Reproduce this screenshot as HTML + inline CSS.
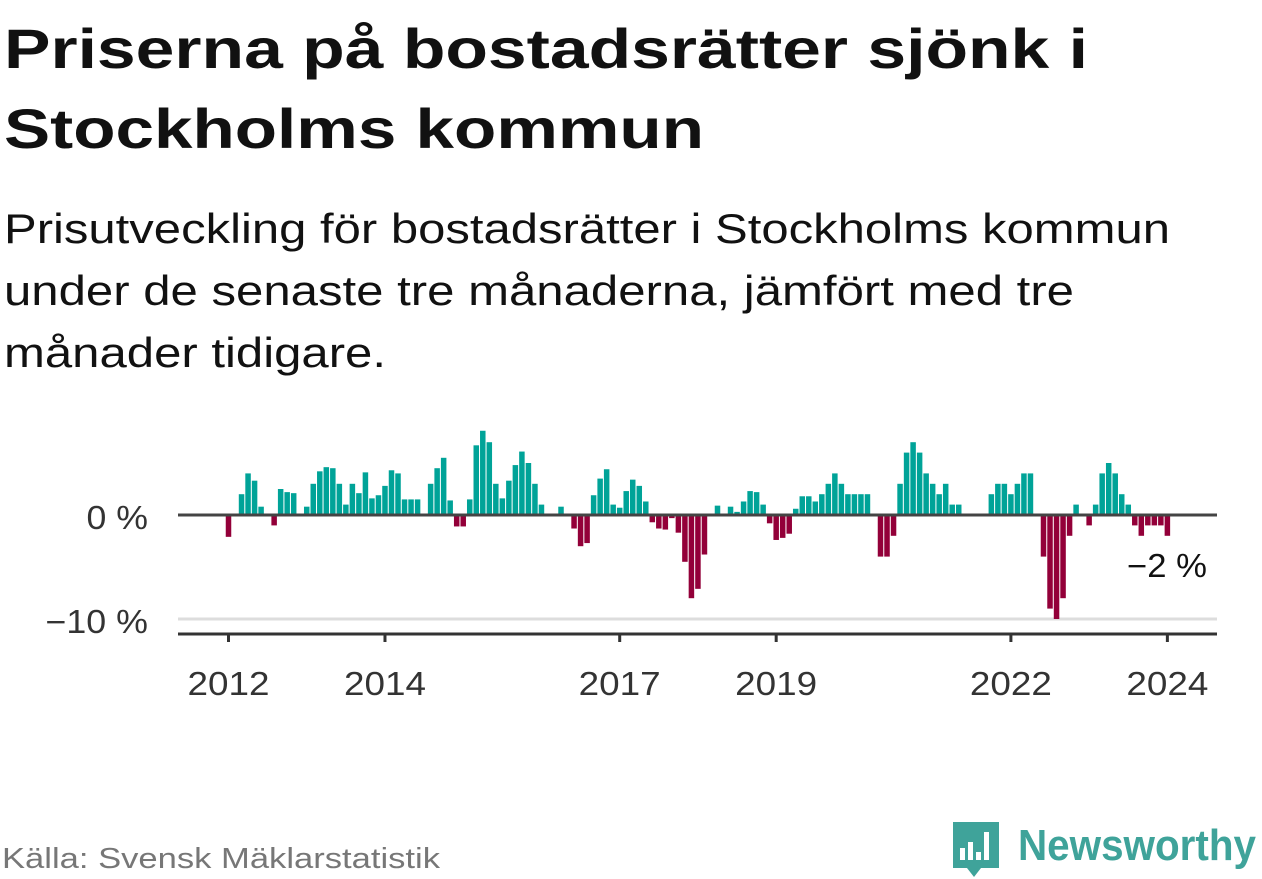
<!DOCTYPE html>
<html><head><meta charset="utf-8"><style>
html,body{margin:0;padding:0;background:#fff;}
svg{display:block;font-family:"Liberation Sans","DejaVu Sans",sans-serif;}
</style></head><body>
<svg id="chart" width="1262" height="879" viewBox="0 0 1262 879" xmlns="http://www.w3.org/2000/svg">
<text x="4" y="68" font-size="56" font-weight="bold" fill="#111" textLength="1084" lengthAdjust="spacingAndGlyphs">Priserna på bostadsrätter sjönk i</text>
<text x="4" y="148" font-size="56" font-weight="bold" fill="#111" textLength="700" lengthAdjust="spacingAndGlyphs">Stockholms kommun</text>
<text x="4" y="243" font-size="42" fill="#111" textLength="1166" lengthAdjust="spacingAndGlyphs">Prisutveckling för bostadsrätter i Stockholms kommun</text>
<text x="4" y="305" font-size="42" fill="#111" textLength="1070" lengthAdjust="spacingAndGlyphs">under de senaste tre månaderna, jämfört med tre</text>
<text x="4" y="367" font-size="42" fill="#111" textLength="382" lengthAdjust="spacingAndGlyphs">månader tidigare.</text>
<g id="plot"></g>
<text x="2" y="868" font-size="29" fill="#777" textLength="438" lengthAdjust="spacingAndGlyphs">Källa: Svensk Mäklarstatistik</text>
<g>
<path d="M953 822 h46 v46 h-18 l-7 9 l-7 -9 h-14 z" fill="#3fa39a"/>
<rect x="960" y="848" width="5" height="12" fill="#fff"/>
<rect x="968" y="842" width="5" height="18" fill="#fff"/>
<rect x="976" y="852" width="5" height="8" fill="#fff"/>
<rect x="984" y="832" width="5" height="28" fill="#fff"/>
<text x="1018" y="860" font-size="44" font-weight="bold" fill="#3fa39a" textLength="238" lengthAdjust="spacingAndGlyphs">Newsworthy</text>
</g>
</svg>
<script>
const values = [-2.1,0,2.0,4.0,3.3,0.8,0,-1.0,2.5,2.2,2.1,0,
0.8,3.0,4.2,4.6,4.5,3.0,1.0,3.0,2.1,4.1,1.6,1.9,
2.8,4.3,4.0,1.5,1.5,1.5,0,3.0,4.5,5.5,1.4,-1.1,
-1.1,1.5,6.7,8.1,7.0,3.0,1.6,3.3,4.8,6.1,5.0,3.0,
1.0,0,0,0.8,0,-1.3,-3.0,-2.7,1.9,3.5,4.4,1.0,
0.7,2.3,3.4,2.8,1.3,-0.7,-1.3,-1.4,-0.3,-1.7,-4.5,-8.0,
-7.1,-3.8,0,0.9,0,0.8,0.3,1.3,2.3,2.2,1.0,-0.8,
-2.4,-2.2,-1.8,0.6,1.8,1.8,1.3,2.0,3.0,4.0,3.0,2.0,
2.0,2.0,2.0,0,-4.0,-4.0,-2.0,3.0,6.0,7.0,6.0,4.0,
3.0,2.0,3.0,1.0,1.0,0,0,0,0,2.0,3.0,3.0,
2.0,3.0,4.0,4.0,0,-4.0,-9.0,-10.0,-8.0,-2.0,1.0,0,
-1.0,1.0,4.0,5.0,4.0,2.0,1.0,-1.0,-2.0,-1.0,-1.0,-1.0,
-2.0];
const startYear = 2012;
const yearTicks = [2012,2014,2017,2019,2022,2024];
const yTicks = [0,-10];
const yTickLabels = ["0 %","\u221210 %"];
const lastLabel = "\u22122 %";

const NS="http://www.w3.org/2000/svg";
const g=document.getElementById('plot');
const x0=228.5, pxMonth=6.52, y0=515, pxPct=10.4;
const xS=i=>x0+pxMonth*i;
const yS=v=>y0-v*pxPct;
function mk(t,a){const e=document.createElementNS(NS,t);for(const k in a)e.setAttribute(k,a[k]);g.appendChild(e);return e;}
const gl=mk('line',{x1:178,x2:1217,y1:yS(-10),y2:yS(-10),stroke:'#ddd','stroke-width':3});


yTicks.forEach((v,k)=>{
  const t=mk('text',{x:148,y:yS(v)+14,'text-anchor':'end','font-size':33,fill:'#333',textLength:yTickLabels[k].length*20.5,lengthAdjust:'spacingAndGlyphs'});
  t.textContent=yTickLabels[k];
  
  
});
values.forEach((v,i)=>{
  if(v===0)return;
  const r=mk('rect',{x:xS(i)-2.75,width:5.5,y:v>0?yS(v):y0,height:Math.abs(v)*pxPct,fill:v>0?'#00a398':'#930039'});
  
  
});
const zl=mk('line',{x1:178,x2:1217,y1:y0,y2:y0,stroke:'#444','stroke-width':3});


const ax=mk('line',{x1:178,x2:1217,y1:634,y2:634,stroke:'#333','stroke-width':3});


yearTicks.forEach(yr=>{
  const xx=xS((yr-startYear)*12);
  const tk=mk('line',{x1:xx,x2:xx,y1:634,y2:642,stroke:'#333','stroke-width':3});
  
  
  const t=mk('text',{x:xx,y:695,'text-anchor':'middle','font-size':33,fill:'#333',textLength:82,lengthAdjust:'spacingAndGlyphs'});
  t.textContent=String(yr);
  
  
});
const ll=mk('text',{x:1207,y:577,'text-anchor':'end','font-size':33,fill:'#111',textLength:80,lengthAdjust:'spacingAndGlyphs'});
ll.textContent=lastLabel;


</script>
</body></html>
